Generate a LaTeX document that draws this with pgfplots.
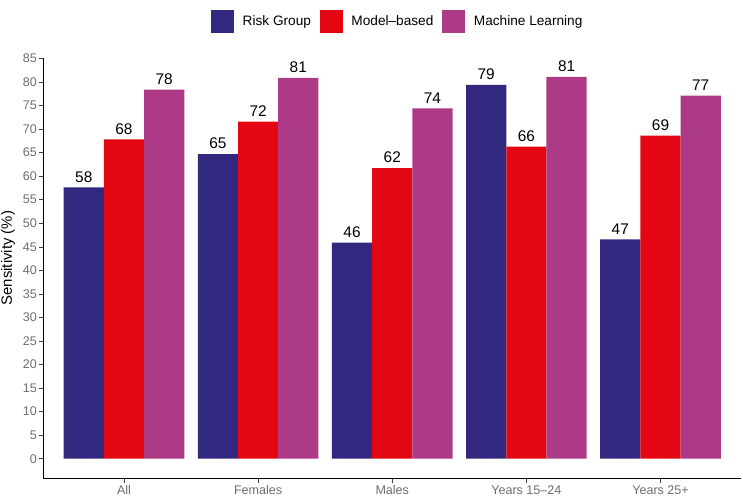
\documentclass[border=0pt]{standalone}
\usepackage{fontspec}
\setmainfont{Liberation Sans}
\usepackage{pgfplots}
\usepackage{pgfplotstable}
\pgfplotsset{compat=1.18}
\definecolor{riskc}{RGB}{50,40,127}
\definecolor{modelc}{RGB}{227,7,19}
\definecolor{mlc}{RGB}{172,58,135}
\definecolor{ticklab}{RGB}{110,110,110}
\pgfplotstableread{
x risk model ml
0 57.6 67.8 78.4
1 64.7 71.6 80.9
2 45.9 61.7 74.4
3 79.4 66.3 81.1
4 46.6 68.6 77.1
}\datatable
\begin{document}
\begin{tikzpicture}
\useasboundingbox (0,0) rectangle (743bp,499bp);
\begin{axis}[
  at={(43.5bp,20.3bp)}, anchor=south west,
  scale only axis, width=697.5bp, height=420.2bp,
  ybar=0pt, bar width=40.2bp,
  xmin=-0.6, xmax=4.6, ymin=-4.25, ymax=85,
  xtick={0,1,2,3,4},
  xticklabels={All,Females,Males,Years 15–24,Years 25+},
  ytick={0,5,...,85},
  axis x line=bottom, axis y line=left,
  axis line style={-, black, line width=1.1bp},
  tick align=outside, major tick length=4bp,
  tick style={black!75, line width=0.6bp},
  ticklabel style={font=\fontsize{12.6}{14}\selectfont, text=ticklab},
  yticklabel style={inner sep=2.5bp},
  xticklabel style={inner sep=2.5bp},
  /pgf/number format/assume math mode=true,
  ylabel={Sensitivity (\%)},
  every axis y label/.style={at={(rel axis cs:0,0.525)}, xshift=-35.5bp, rotate=90, anchor=center, font=\fontsize{15}{17}\selectfont},
  every axis plot/.append style={draw=none,
    legend image code/.code={\fill[##1] (0bp,-11.5bp) rectangle (23bp,11.5bp); \path (29.5bp,0bp);}},
  point meta=y,
  nodes near coords={\pgfmathprintnumber[fixed,precision=0]{\pgfplotspointmeta}},
  nodes near coords style={anchor=south, inner sep=0pt, yshift=5bp, font=\fontsize{15.5}{17}\selectfont, text=black},
  legend style={at={(rel axis cs:0.508,1.089)}, anchor=center, draw=none, fill=none,
    legend columns=3, font=\fontsize{13.7}{15}\selectfont,
    /tikz/every even column/.append style={column sep=7bp}},
  legend cell align=left,
]
\addplot[fill=riskc] table[x=x,y=risk] {\datatable};
\addplot[fill=modelc] table[x=x,y=model] {\datatable};
\addplot[fill=mlc] table[x=x,y=ml] {\datatable};
\legend{Risk Group,Model–based,Machine Learning}
\end{axis}
\end{tikzpicture}
\end{document}
